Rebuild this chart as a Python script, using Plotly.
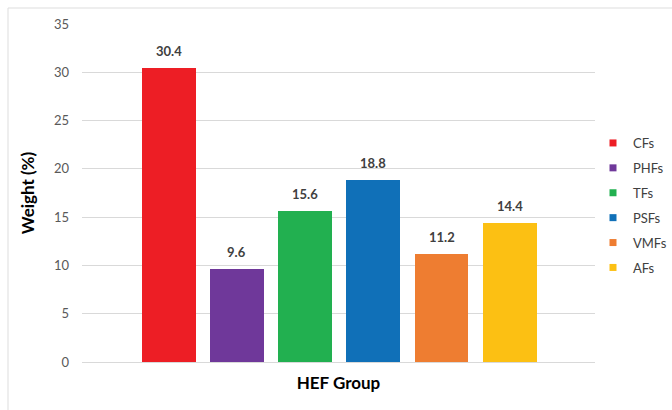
import plotly.graph_objects as go

# HEF group composition by weight
groups = ["CFs", "PHFs", "TFs", "PSFs", "VMFs", "AFs"]
weights = [30.4, 9.6, 15.6, 18.8, 11.2, 14.4]
colors = ["#ED1E25", "#6F389A", "#22B050", "#1070B8", "#EE7D31", "#FCC013"]
y_ticks = [0, 5, 10, 15, 20, 25, 30, 35]

FONT = "Lato"
W, H = 672, 410
ML, MR, MT, MB = 82, 77, 24, 48

fig = go.Figure()

for i, (g, w, c) in enumerate(zip(groups, weights, colors)):
    fig.add_trace(go.Bar(
        x=[i], y=[w], width=0.79, marker=dict(color=c, line=dict(width=0)),
        showlegend=False, hoverinfo="skip",
    ))
    # small square swatch for the legend entry
    fig.add_trace(go.Scatter(
        x=[None], y=[None], mode="markers", name=g, legendgroup=g,
        marker=dict(symbol="square", size=7, color=c),
    ))
    fig.add_annotation(
        x=i, y=w, text=f"{w:.1f}", showarrow=False, yanchor="bottom", yshift=7,
        font=dict(family=FONT, size=13, color="#404040", weight="bold"),
    )

pw = W - ML - MR
ph = H - MT - MB

def px_x(p):
    return (p - ML) / pw

def px_y(p):
    return (H - MB - p) / ph

# outer chart frame
fig.add_shape(type="rect", xref="paper", yref="paper",
              x0=px_x(8), x1=px_x(720), y0=px_y(440), y1=px_y(8),
              line=dict(color="#DDDDDD", width=1), fillcolor="rgba(0,0,0,0)", layer="below")

fig.update_layout(
    width=W, height=H,
    margin=dict(l=ML, r=MR, t=MT, b=MB, autoexpand=False),
    paper_bgcolor="white", plot_bgcolor="white",
    font=dict(family=FONT),
    bargap=0,
    xaxis=dict(
        range=[-1.271, 6.25], showticklabels=False, showgrid=False, zeroline=False,
        showline=False, ticks="",
        title=dict(text="HEF Group", standoff=15,
                   font=dict(family=FONT, size=17, color="#000000", weight="bold")),
    ),
    yaxis=dict(
        range=[0, 35], tickvals=y_ticks, showgrid=True, gridcolor="#D9D9D9", gridwidth=1,
        zeroline=True, zerolinecolor="#D9D9D9", zerolinewidth=1, showline=False, ticks="",
        ticklabelstandoff=12,
        tickfont=dict(family=FONT, size=13, color="#595959"),
        title=dict(text="Weight (%)", standoff=14,
                   font=dict(family=FONT, size=17, color="#000000", weight="bold")),
    ),
    legend=dict(
        x=px_x(593), xanchor="left", y=px_y(128), yanchor="top",
        font=dict(family=FONT, size=13, color="#404040"),
        tracegroupgap=5, bgcolor="rgba(0,0,0,0)",
    ),
    showlegend=True,
)

fig.write_html("out.html")
